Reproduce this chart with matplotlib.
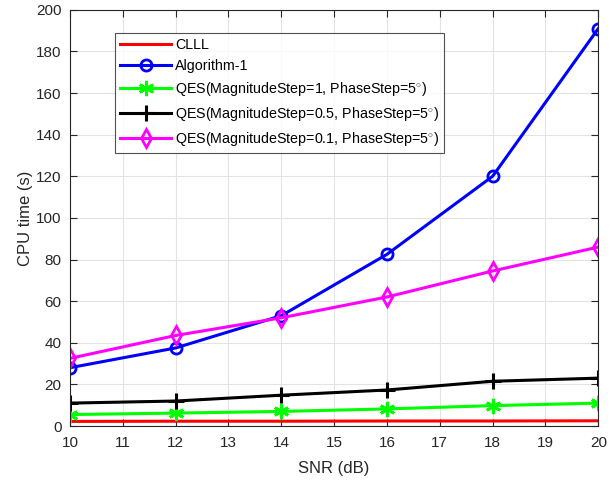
import matplotlib
matplotlib.use('Agg')
import matplotlib.pyplot as plt

plt.rcParams['font.family'] = ['Liberation Sans', 'DejaVu Sans']
plt.rcParams['mathtext.fontset'] = 'custom'
plt.rcParams['mathtext.rm'] = 'Liberation Sans'

snr = [10, 12, 14, 16, 18, 20]
clll = [2.2, 2.3, 2.3, 2.4, 2.4, 2.5]
alg1 = [28, 37.5, 53, 82.5, 120, 191]
qes_1 = [5.5, 6.2, 7.0, 8.2, 9.8, 11.0]
qes_05 = [11.0, 12.0, 14.8, 17.3, 21.5, 23.0]
qes_01 = [32.5, 43.5, 52, 62, 74.5, 86]

labels = ['CLLL', 'Algorithm-1',
          r'QES(MagnitudeStep=1, PhaseStep=5$^{\circ}$)',
          r'QES(MagnitudeStep=0.5, PhaseStep=5$^{\circ}$)',
          r'QES(MagnitudeStep=0.1, PhaseStep=5$^{\circ}$)']

fig = plt.figure(figsize=(6.13, 4.8), dpi=100)
ax = fig.add_axes([0.114, 0.1125, 0.862, 0.867])

lw = 2.2
ax.plot(snr, clll, color='#ff0000', lw=lw, label=labels[0])
ax.plot(snr, alg1, color='#0000ff', lw=lw, marker='o', ms=8, mfc='none', mew=2, label=labels[1])
ax.plot(snr, qes_1, color='#00ff00', lw=lw, marker=(6, 2, 0), ms=11, mew=2, label=labels[2])
ax.plot(snr, qes_05, color='black', lw=lw, marker='+', ms=12, mew=2.2, label=labels[3])
ax.plot(snr, qes_01, color='#ff00ff', lw=lw, marker='d', ms=9, mfc='none', mew=2, label=labels[4])

ax.set_xlim(10, 20)
ax.set_ylim(0, 200)
ax.set_xticks(range(10, 21))
ax.set_yticks(range(0, 201, 20))
ax.grid(True, color='#e3e3e3', lw=0.8)
ax.set_axisbelow(True)
ax.tick_params(direction='in', top=True, right=True, labelsize=11, colors='#262626', length=5)
ax.tick_params(axis='x', pad=7)
ax.tick_params(axis='y', pad=6)
for s in ax.spines.values():
    s.set_color('#262626')
    s.set_linewidth(0.8)

ax.set_xlabel('SNR (dB)', fontsize=12, color='#262626', labelpad=8)
ax.set_ylabel('CPU time (s)', fontsize=12, color='#262626', labelpad=2)

leg = ax.legend(loc='upper left', bbox_to_anchor=(0.085, 0.945), fontsize=10.3,
                frameon=True, fancybox=False, edgecolor='#262626', handlelength=3.6,
                borderpad=0.35, labelspacing=0.5, handletextpad=0.25, borderaxespad=0)
leg.get_frame().set_linewidth(0.8)

fig.savefig('out.png', dpi=100)
